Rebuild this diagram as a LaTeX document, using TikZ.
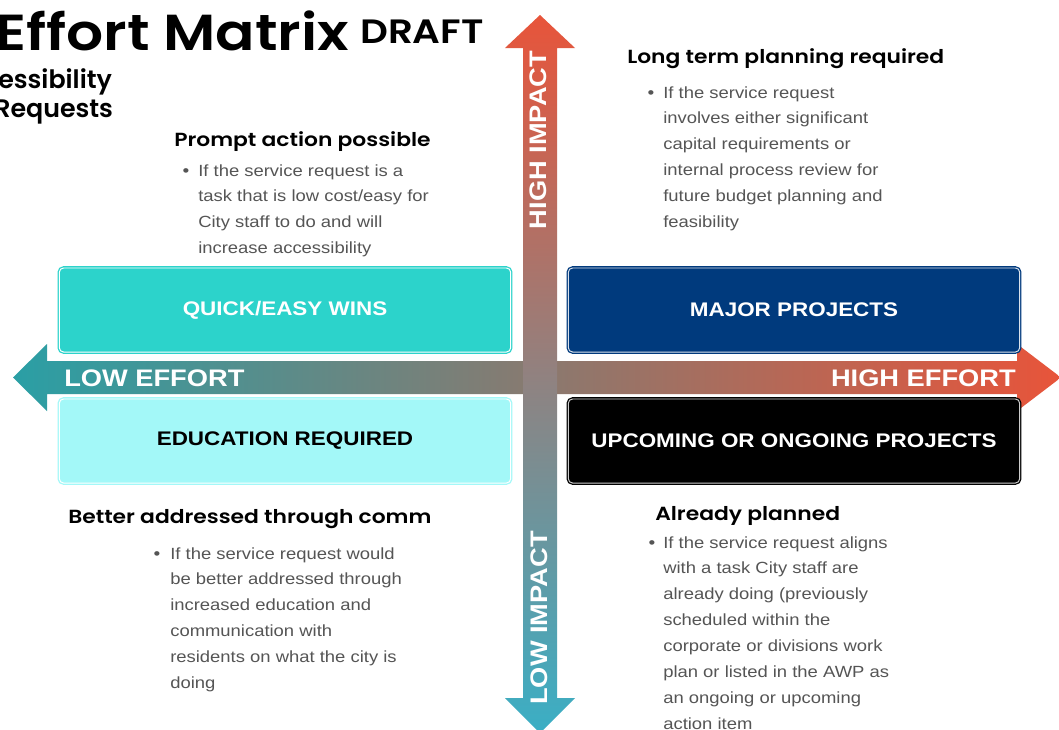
\documentclass[tikz,border=0pt]{standalone}
\usepackage{fontspec}
\setmainfont{Liberation Sans}[FakeStretch=1.14]
\newfontfamily\headfont{Poppins}[BoldFont={Poppins SemiBold},FakeStretch=1.15]
\newfontfamily\subfont{Poppins}[BoldFont={Poppins SemiBold}]
\definecolor{quickcol}{HTML}{2CD3CB}
\definecolor{educol}{HTML}{A3F8F8}
\definecolor{majorcol}{HTML}{003A7D}
\definecolor{hotcol}{HTML}{E8543A}
\definecolor{lowcol}{HTML}{2A9FA5}
\definecolor{coolcol}{HTML}{3AAFC5}
\definecolor{midcol}{HTML}{A7AAA9}
\definecolor{bodygrey}{HTML}{555555}
\begin{document}
\begin{tikzpicture}[x=0.025cm,y=-0.025cm,
		quad/.style={rounded corners=3pt,minimum width=11.28cm,minimum height=2.1cm,line width=0.9pt,double distance=0.7pt,font=\fontsize{14}{16}\selectfont\bfseries},
		headtext/.style={anchor=base west,inner sep=0,font=\headfont\bfseries\fontsize{13.5}{16}\selectfont},
		bodytext/.style={anchor=north west,inner sep=0,align=left,text=bodygrey,font=\fontsize{11.5}{18.4}\selectfont},
		bull/.style={anchor=base,inner sep=0,text=bodygrey,font=\fontsize{12}{14}\selectfont},
		axislabel/.style={text=white,inner sep=0,font=\fontsize{17}{20}\selectfont\bfseries}]
			\clip (0,0) rectangle (1059,730);
			\path[fill=white] (0,0) rectangle (1059,730);
			\shade[left color=lowcol,middle color=midcol,right color=hotcol] (13,377.5) -- (47,344) -- (47,361) -- (1017,361) -- (1017,344) -- (1061,377.5) -- (1017,411) -- (1017,394) -- (47,394) -- (47,411) -- cycle;
			\shade[top color=hotcol,middle color=midcol,bottom color=coolcol] (540,15) -- (575,48) -- (557,48) -- (557,698) -- (575,698) -- (540,733) -- (505,698) -- (523,698) -- (523,48) -- (505,48) -- cycle;
			\node[anchor=base west,inner sep=0,font=\headfont\bfseries\fontsize{36}{40}\selectfont] (title) at (-5,50) {Effort Matrix};
			\node[anchor=base west,inner sep=0,font=\headfont\bfseries\fontsize{24}{28}\selectfont] (draft) at (360,43) {DRAFT};
			\node[anchor=base west,inner sep=0,font=\subfont\bfseries\fontsize{18}{24}\selectfont] (subA) at (-2,88) {essibility};
			\node[anchor=base west,inner sep=0,font=\subfont\bfseries\fontsize{18}{24}\selectfont] (subB) at (-6,117) {Requests};
			\node[quad,fill=quickcol,draw=quickcol,double=white,text=white] (quick) at (285,310) {QUICK/EASY WINS};
			\node[quad,fill=educol,draw=educol,double=white,text=black] (edu) at (285,441) {EDUCATION REQUIRED};
			\node[quad,fill=majorcol,draw=majorcol,double=white!85!majorcol,text=white] (major) at (794,310) {MAJOR PROJECTS};
			\node[quad,fill=black,draw=black,double=white!80!black,text=white] (upcoming) at (794,441) {UPCOMING OR ONGOING PROJECTS};
			\node[axislabel,anchor=base west] (loweff) at (64,386) {LOW EFFORT};
			\node[axislabel,anchor=base east] (higheff) at (1016,386) {HIGH EFFORT};
			\node[axislabel,rotate=90] (highimp) at (538,140) {HIGH IMPACT};
			\node[axislabel,rotate=90] (lowimp) at (539,618) {LOW IMPACT};
			\node[headtext] (prompt) at (174,146) {Prompt action possible};
			\node[bull] (bulA) at (186,176) {\textbullet};
			\node[bodytext] (bodyA) at (198,164) {If the service request is a\\task that is low cost/easy for\\City staff to do and will\\increase accessibility};
			\node[headtext] (longterm) at (627,63) {Long term planning required};
			\node[bull] (bulB) at (651,98) {\textbullet};
			\node[bodytext] (bodyB) at (663,86) {If the service request\\involves either significant\\capital requirements or\\internal process review for\\future budget planning and\\feasibility};
			\node[headtext] (better) at (68,523) {Better addressed through comm};
			\node[bull] (bulC) at (157,559) {\textbullet};
			\node[bodytext] (bodyC) at (170,547) {If the service request would\\be better addressed through\\increased education and\\communication with\\residents on what the city is\\doing};
			\node[headtext] (already) at (655,520) {Already planned};
			\node[bull] (bulD) at (652,548) {\textbullet};
			\node[bodytext] (bodyD) at (663,536) {If the service request aligns\\with a task City staff are\\already doing (previously\\scheduled within the\\corporate or divisions work\\plan or listed in the AWP as\\an ongoing or upcoming\\action item};
		\end{tikzpicture}
\end{document}
